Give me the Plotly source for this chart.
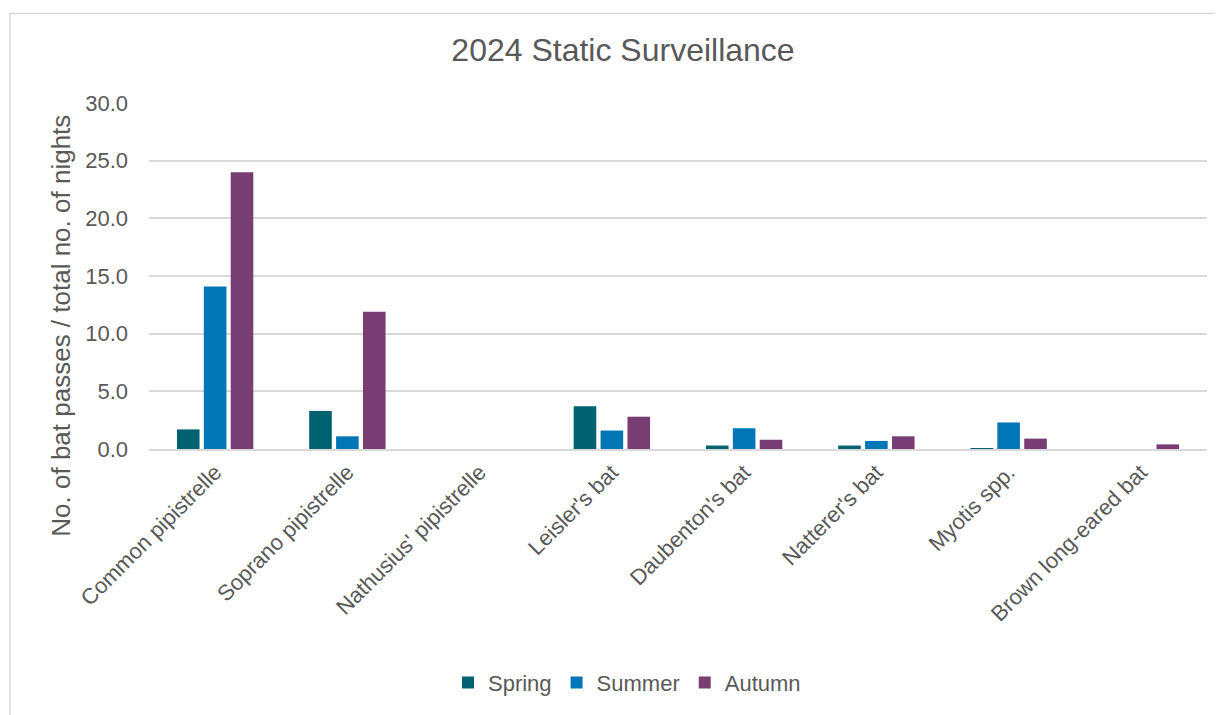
import plotly.graph_objects as go

categories = ["Common pipistrelle", "Soprano pipistrelle", "Nathusius' pipistrelle",
              "Leisler's bat", "Daubenton's bat", "Natterer's bat", "Myotis spp.",
              "Brown long-eared bat"]
spring = [1.7, 3.3, 0.0, 3.7, 0.3, 0.3, 0.05, 0.0]
summer = [14.1, 1.1, 0.0, 1.6, 1.8, 0.7, 2.3, 0.0]
autumn = [24.0, 11.9, 0.0, 2.8, 0.8, 1.1, 0.9, 0.4]

FONT = "Arial, Liberation Sans, sans-serif"
TXT = "#595959"

# page has an 8px body margin; compensate
OFF = 8
W, H = 1223 - OFF, 715 - OFF
PL, PR, PT, PB = 149, 1207, 103, 451  # plot area in page pixels
PW, PH = PR - PL, PB - PT

fig = go.Figure()
for name, vals, col in [("Spring", spring, "#006270"),
                        ("Summer", summer, "#0076B6"),
                        ("Autumn", autumn, "#783D73")]:
    fig.add_trace(go.Bar(name=name, x=categories, y=vals, marker_color=col,
                         marker_line_width=0))

fig.update_layout(
    width=W, height=H,
    paper_bgcolor="white", plot_bgcolor="white",
    margin=dict(l=PL - OFF, r=W - (PR - OFF), t=PT - OFF, b=H - (PB - OFF)),
    barmode="group", bargap=0.39, bargroupgap=0.16,
    font=dict(family=FONT, color=TXT, size=22),
    title=dict(text="2024 Static Surveillance", x=(623 - OFF) / W, xanchor="center",
               xref="container", y=1 - (50 - OFF) / H, yanchor="middle", yref="container",
               font=dict(size=32, color=TXT, family=FONT)),
    legend=dict(orientation="h", x=(627 - PL) / PW, xanchor="center",
                y=(PB - 686) / PH, yanchor="middle",
                font=dict(size=22, color=TXT), itemwidth=30, traceorder="normal"),
    showlegend=True,
)
fig.update_yaxes(range=[0, 30], dtick=5, tickformat=".1f", showgrid=True,
                 gridcolor="#d9d9d9", gridwidth=1.5, zeroline=False, showline=False,
                 ticks="", ticklabelstandoff=20, tickfont=dict(size=22, color=TXT))
fig.update_xaxes(tickangle=-45, showline=True, linecolor="#d9d9d9", linewidth=1.5,
                 ticks="", tickfont=dict(size=22, color=TXT))

fig.add_annotation(text="No. of bat passes / total no. of nights", textangle=-90,
                   xref="paper", yref="paper", x=(61 - PL) / PW, y=(PB - 327) / PH,
                   xanchor="center", yanchor="middle", showarrow=False,
                   font=dict(size=26, color=TXT, family=FONT))

fig.add_shape(type="rect", xref="paper", yref="paper",
              x0=(10 - PL) / PW, x1=(1240 - PL) / PW,
              y0=(PB - 730) / PH, y1=(PB - 13) / PH,
              line=dict(color="#d9d9d9", width=1.5), fillcolor="rgba(0,0,0,0)",
              layer="below")

fig.write_html("out.html")
